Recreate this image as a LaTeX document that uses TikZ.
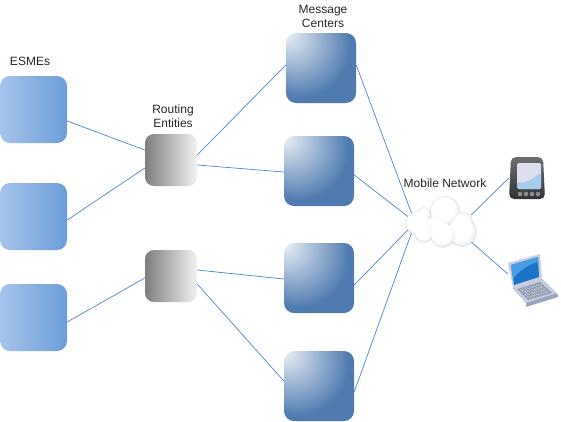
\documentclass[tikz,border=0pt]{standalone}
\usepackage{fontspec}
\setmainfont{Liberation Sans}
\usetikzlibrary{calc}
\definecolor{esmeLeft}{HTML}{A6C4EB}
\definecolor{esmeRight}{HTML}{6C9DD8}
\definecolor{routeLeft}{HTML}{7E7E7E}
\definecolor{routeRight}{HTML}{F2F2F2}
\definecolor{centerLight}{HTML}{EDF1F7}
\definecolor{centerDark}{HTML}{4F7BB0}
\definecolor{linkBlue}{HTML}{4C84D4}
\definecolor{puffMid}{HTML}{E6E6E6}
\definecolor{puffEdge}{HTML}{CDCDCD}
\definecolor{pdaTop}{HTML}{6C6E72}
\definecolor{pdaBody}{HTML}{303236}
\definecolor{pdaScreen}{HTML}{A6CCEC}
\definecolor{pdaGlass}{HTML}{DDDFEE}
\definecolor{lapFrame}{HTML}{C6CEE2}
\definecolor{lapEdge}{HTML}{9AA4BC}
\definecolor{lapScreen}{HTML}{1C74C8}
\definecolor{lapGlow}{HTML}{4A9CE4}
\definecolor{lapKeys}{HTML}{8C94A6}
\pgfdeclareradialshading{centerfade}{\pgfpoint{-25bp}{25bp}}{color(0bp)=(centerLight); color(37bp)=(centerDark); color(100bp)=(centerDark)}
\pgfdeclareradialshading{pufffade}{\pgfpoint{-6bp}{8bp}}{color(0bp)=(white); color(20bp)=(white); color(30bp)=(puffMid); color(36bp)=(puffEdge); color(50bp)=(puffEdge)}
\begin{document}
\begin{tikzpicture}[
    x=1pt,y=-1pt,
    every node/.style={font=\fontsize{12}{14}\selectfont,align=center,inner sep=0pt,text=black!85},
    esme/.style={left color=esmeLeft,right color=esmeRight,rounded corners=10pt,minimum size=67pt},
    route/.style={left color=routeLeft,right color=routeRight,rounded corners=9pt,minimum size=52pt},
    msgcenter/.style={shading=centerfade,rounded corners=10pt,minimum size=70pt},
    device/.style={minimum width=36pt,minimum height=42pt},
    link/.style={draw=linkBlue,line width=0.7pt},
    puff/.style={shading=pufffade},
    puffglow/.style={fill=black!35,opacity=0.3}
]
\useasboundingbox (0,0) rectangle (561,421);
\node[esme] (esmeA) at (33.5,109.5) {};
\node[esme] (esmeB) at (33.5,216.5) {};
\node[esme] (esmeC) at (33.5,317.5) {};
\node[route] (routeA) at (171,160) {};
\node[route] (routeB) at (171,276) {};
\node[msgcenter] (centerA) at (321,68) {};
\node[msgcenter] (centerB) at (319,171) {};
\node[msgcenter] (centerC) at (319,278) {};
\node[msgcenter] (centerD) at (319,386) {};
\node[minimum width=70pt,minimum height=50pt] (network) at (441,222) {};
\node[device] (pda) at (527,178) {};
\node[minimum width=50pt,minimum height=54pt] (laptop) at (533,281) {};
\node (esmeText) at (30,61) {ESMEs};
\node (routeText) at (173,116) {Routing\\Entities};
\node (centerText) at (323,16) {Message\\Centers};
\node (networkText) at (445,183) {Mobile Network};
% links
\draw[link] ([yshift=-11.5pt]esmeA.east) -- ([yshift=10pt]routeA.west);
\draw[link] ([yshift=-3.5pt]esmeB.east) -- ([yshift=-8pt]routeA.west);
\draw[link] ([yshift=-4.5pt]esmeC.east) -- ([yshift=-2pt]routeB.west);
\draw[link] ([yshift=5pt]routeA.east) -- ([yshift=3pt]centerA.west);
\draw[link] ([yshift=-5pt]routeA.east) -- ([yshift=-1pt]centerB.west);
\draw[link] ([yshift=6pt]routeB.east) -- ([yshift=-1pt]centerC.west);
\draw[link] ([yshift=-8pt]routeB.east) -- ([yshift=5pt]centerD.west);
\draw[link] ([yshift=3pt]centerA.east) -- ([xshift=6pt,yshift=8pt]network.west);
\draw[link] ([yshift=-4pt]centerB.east) -- ([xshift=4pt,yshift=4pt]network.west);
\draw[link] ([yshift=-7pt]centerC.east) -- ([xshift=4pt,yshift=-6pt]network.west);
\draw[link] ([yshift=-6pt]centerD.east) -- ([xshift=6pt,yshift=-10pt]network.west);
\draw[link] ([xshift=-5pt,yshift=7pt]network.east) -- ([yshift=0pt]pda.west);
\draw[link] ([xshift=-5pt,yshift=-20pt]network.east) -- ([xshift=0pt,yshift=7pt]laptop.west);
% cloud
\foreach \px/\py/\pr in {445/211/14,424/214/6,418/223/12,463/222/9,462/232/14,436/225/9,424/233/9,443/235/12}
    \fill[puffglow] (\px,\py) circle (\pr+0.8);
\foreach \px/\py/\pr in {445/211/14,424/214/6,418/223/12,463/222/9,462/232/14,436/225/9,424/233/9,443/235/12}
    \shade[puff] (\px,\py) circle (\pr);
% handheld
\shade[top color=pdaTop,bottom color=pdaBody,rounded corners=5pt] (511,157) -- (543,157) -- (545,199) -- (509,199) -- cycle;
\fill[pdaGlass,rounded corners=1.5pt] (517,163) rectangle (541,189);
\fill[pdaScreen,rounded corners=1.5pt] (517,182) .. controls (526,184) and (533,178) .. (541,173) -- (541,189) -- (517,189) -- cycle;
\fill[gray!90] (520,194) circle (2.3) (526,194) circle (2.3) (532,194) circle (2.3) (538,194) circle (2.3);
% notebook
\fill[lapEdge] (513,288) -- (542,279) -- (558,295) -- (558,297) -- (526,307) -- (526,303) -- cycle;
\fill[lapFrame] (513,287) -- (542,279) -- (557,293) -- (526,303) -- cycle;
\coordinate (keyA) at (517,289);
\coordinate (keyB) at (540,282);
\coordinate (keyC) at (552,293);
\coordinate (keyD) at (528,300);
\fill[lapKeys] (keyA) -- (keyB) -- (keyC) -- (keyD) -- cycle;
\foreach \t in {0.2,0.4,0.6,0.8}
    \draw[lapFrame,line width=0.4pt] ($(keyA)!\t!(keyD)$) -- ($(keyB)!\t!(keyC)$);
\foreach \t in {0.1,0.2,...,0.9}
    \draw[lapFrame,line width=0.4pt] ($(keyA)!\t!(keyB)$) -- ($(keyD)!\t!(keyC)$);
\fill[lapFrame] (508,263) -- (540,254) -- (542,279) -- (513,288) -- cycle;
\fill[lapScreen] (511,265) -- (538,257) -- (539,277) -- (514,285) -- cycle;
\fill[lapGlow] (511,265) -- (538,257) -- (538.3,262) .. controls (528,264) and (518,272) .. (513,279) -- cycle;
\end{tikzpicture}
\end{document}
